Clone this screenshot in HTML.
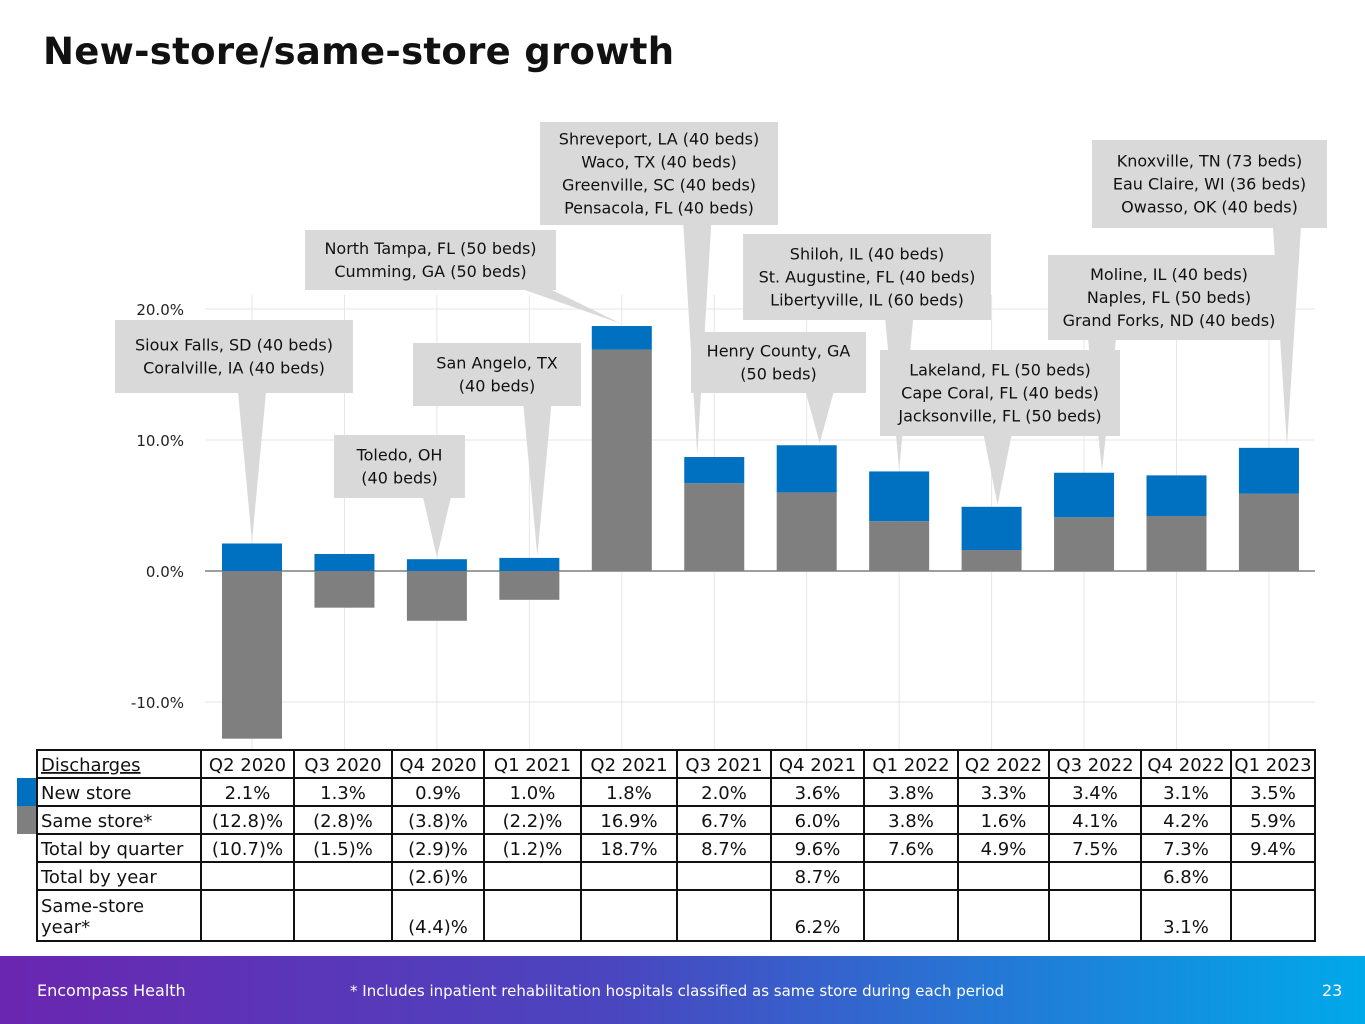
<!DOCTYPE html>
<html><head><meta charset="utf-8"><style>
body{margin:0;width:1365px;height:1024px;background:#fff;position:relative;overflow:hidden;font-family:"DejaVu Sans","Liberation Sans",sans-serif;}
#title{position:absolute;left:43px;top:30px;font-size:37px;font-weight:bold;color:#111;letter-spacing:0.3px;font-family:"DejaVu Sans",sans-serif;}
svg{position:absolute;left:0;top:0;}
#footer{position:absolute;left:0;top:956px;width:1365px;height:68px;background:linear-gradient(90deg,#6a26b0 0%,#4a46c0 45%,#00a9ea 100%);color:#fff;font-size:16px;}
</style></head><body>
<div id="title">New-store/same-store growth</div>
<svg id="chart" width="1365" height="956"></svg>
<div id="footer">
<span style="position:absolute;left:37px;top:25px;">Encompass Health</span>
<span style="position:absolute;left:350px;top:26px;font-size:15px;">* Includes inpatient rehabilitation hospitals classified as same store during each period</span>
<span style="position:absolute;left:1322px;top:25px;">23</span>
</div>
<script>
const categories=["Q2 2020","Q3 2020","Q4 2020","Q1 2021","Q2 2021","Q3 2021","Q4 2021","Q1 2022","Q2 2022","Q3 2022","Q4 2022","Q1 2023"];
const newStore=[2.1,1.3,0.9,1.0,1.8,2.0,3.6,3.8,3.3,3.4,3.1,3.5];
const sameStore=[-12.8,-2.8,-3.8,-2.2,16.9,6.7,6.0,3.8,1.6,4.1,4.2,5.9];
const newLabels=["2.1%","1.3%","0.9%","1.0%","1.8%","2.0%","3.6%","3.8%","3.3%","3.4%","3.1%","3.5%"];
const sameLabels=["(12.8)%","(2.8)%","(3.8)%","(2.2)%","16.9%","6.7%","6.0%","3.8%","1.6%","4.1%","4.2%","5.9%"];
const totalLabels=["(10.7)%","(1.5)%","(2.9)%","(1.2)%","18.7%","8.7%","9.6%","7.6%","4.9%","7.5%","7.3%","9.4%"];
const yearLabels=["","","(2.6)%","","","","8.7%","","","","6.8%",""];
const sameYearLabels=["","","(4.4)%","","","","6.2%","","","","3.1%",""];
const yTicks=[20,10,0,-10];
const yTickLabels=["20.0%","10.0%","0.0%","-10.0%"];
const callouts=[
 {lines:["Sioux Falls, SD (40 beds)","Coralville, IA (40 beds)"],box:[115,320,238,73],tip:0},
 {lines:["Toledo, OH","(40 beds)"],box:[334,435,131,63],tip:2},
 {lines:["San Angelo, TX","(40 beds)"],box:[413,343,168,63],tip:3,dx:8},
 {lines:["North Tampa, FL (50 beds)","Cumming, GA (50 beds)"],box:[305,230,251,60],tip:4},
 {lines:["Shreveport, LA (40 beds)","Waco, TX (40 beds)","Greenville, SC (40 beds)","Pensacola, FL (40 beds)"],box:[540,122,238,103],tip:5,dx:-17},
 {lines:["Henry County, GA","(50 beds)"],box:[691,332,175,61],tip:6,dx:13},
 {lines:["Shiloh, IL (40 beds)","St. Augustine, FL (40 beds)","Libertyville, IL (60 beds)"],box:[743,234,248,86],tip:7},
 {lines:["Moline, IL (40 beds)","Naples, FL (50 beds)","Grand Forks, ND (40 beds)"],box:[1048,255,242,85],tip:9,dx:18},
 {lines:["Lakeland, FL (50 beds)","Cape Coral, FL (40 beds)","Jacksonville, FL (50 beds)"],box:[880,350,240,86],tip:8,dx:6},
 {lines:["Knoxville, TN (73 beds)","Eau Claire, WI (36 beds)","Owasso, OK (40 beds)"],box:[1092,140,235,88],tip:11,dx:18}
];
const NS="http://www.w3.org/2000/svg";
const svg=document.getElementById('chart');
function y(v){return 571-v*13.1;}
const cols=[201,294,392,484,581,677,771,864,958,1049,1141,1231,1315];
function xc(i){return (cols[i]+cols[i+1])/2;}
function xb(i){return 252+i*92.45;}
function mk(t,a,p){const e=document.createElementNS(NS,t);for(const k in a)e.setAttribute(k,a[k]);(p||svg).appendChild(e);return e;}
categories.forEach((c,i)=>{
 const l=mk('line',{x1:xb(i),x2:xb(i),y1:295,y2:750,stroke:'#e6e6e6','stroke-width':1});
 
 
});
yTicks.forEach((t,i)=>{
 const l=mk('line',{x1:205,x2:1315,y1:y(t),y2:y(t),stroke:t===0?'#7f7f7f':'#e6e6e6','stroke-width':t===0?1.5:1});
 
 
 const tx=mk('text',{x:184,y:y(t)+6,'text-anchor':'end','font-size':15,fill:'#222'});
 tx.textContent=yTickLabels[i];
 
 
});
const bw=60;
categories.forEach((c,i)=>{
 const s=sameStore[i],n=newStore[i],x=xb(i)-bw/2;
 const g=mk('rect',{x:x,width:bw,y:Math.min(y(0),y(s)),height:Math.abs(y(s)-y(0)),fill:'#7f7f7f'});
 
 
 const base=s>0?s:0;
 const b=mk('rect',{x:x,width:bw,y:y(base+n),height:y(base)-y(base+n),fill:'#0070c0'});
 
 
});
callouts.forEach(co=>{
 const [bx,by,bw2,bh]=co.box;
 const g=mk('g',{});
 
 
 const base=sameStore[co.tip]>0?sameStore[co.tip]:0;
 const tipX=xb(co.tip)+(co.dx||0), tipY=y(base+newStore[co.tip])-2;
 let cx=Math.min(Math.max(tipX,bx+20),bx+bw2-20);
 if(tipY>by+bh){mk('polygon',{points:`${cx-14},${by+bh-1} ${cx+14},${by+bh-1} ${tipX},${tipY}`,fill:'#d9d9d9'},g);}
 else{mk('polygon',{points:`${bx+bw2-1},${by+bh-22} ${bx+bw2-1},${by+bh-4} ${tipX},${tipY}`,fill:'#d9d9d9'},g);}
 mk('rect',{x:bx,y:by,width:bw2,height:bh,fill:'#d9d9d9'},g);
 const n=co.lines.length,top=by+bh/2-(n*23)/2;
 co.lines.forEach((ln,k)=>{const t=mk('text',{x:bx+bw2/2,y:top+17+k*23,'text-anchor':'middle','font-size':16,fill:'#111'},g);t.textContent=ln;});
});
const rows=[750,778,806,834,862,890,941];
const tb=mk('g',{});


mk('rect',{x:17,y:778,width:20,height:28,fill:'#0070c0'},tb);
mk('rect',{x:17,y:806,width:20,height:28,fill:'#7f7f7f'},tb);
mk('rect',{x:37,y:750,width:1278,height:191,fill:'none',stroke:'#111','stroke-width':2},tb);
rows.slice(1,-1).forEach(r=>mk('line',{x1:37,x2:1315,y1:r,y2:r,stroke:'#111','stroke-width':2},tb));
cols.slice(0,-1).forEach(c=>mk('line',{x1:c,x2:c,y1:750,y2:941,stroke:'#111','stroke-width':2},tb));
const rowLabels=["Discharges","New store","Same store*","Total by quarter","Total by year"];
rowLabels.forEach((l,k)=>{const t=mk('text',{x:41,y:rows[k]+21,'font-size':18,fill:'#111','text-decoration':k===0?'underline':'none'},tb);t.textContent=l;});
let t1=mk('text',{x:41,y:912,'font-size':18,fill:'#111'},tb);t1.textContent="Same-store";
t1=mk('text',{x:41,y:933,'font-size':18,fill:'#111'},tb);t1.textContent="year*";
const rowData=[categories,newLabels,sameLabels,totalLabels,yearLabels];
rowData.forEach((arr,k)=>arr.forEach((v,i)=>{const t=mk('text',{x:xc(i),y:rows[k]+21,'text-anchor':'middle','font-size':18,fill:'#111'},tb);t.textContent=v;}));
sameYearLabels.forEach((v,i)=>{const t=mk('text',{x:xc(i),y:933,'text-anchor':'middle','font-size':18,fill:'#111'},tb);t.textContent=v;});
</script>
</body></html>
